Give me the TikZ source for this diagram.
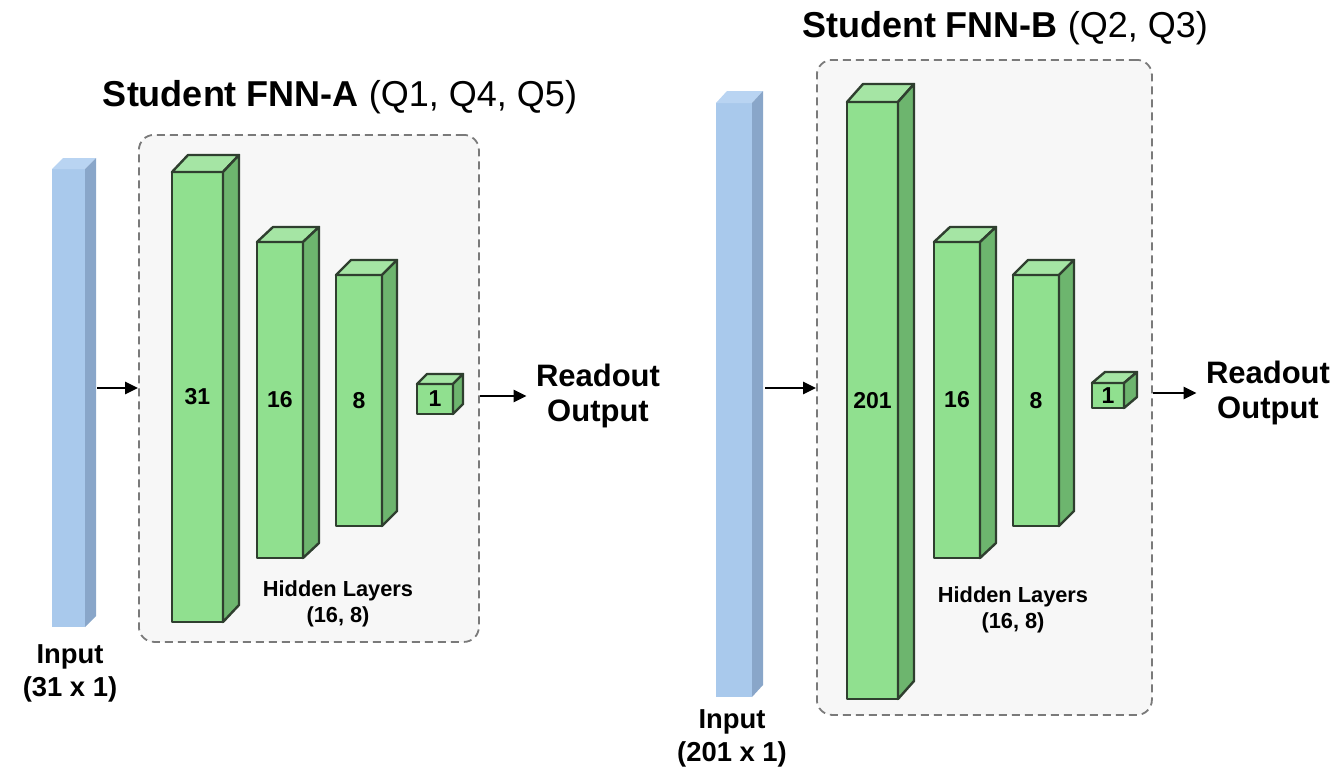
\documentclass[tikz,border=0pt]{standalone}
\usepackage{fontspec}
\setmainfont{Liberation Sans}
\usetikzlibrary{arrows.meta}

\definecolor{inFront}{HTML}{A9C9EC}
\definecolor{inSide}{HTML}{89A6C9}
\definecolor{inTop}{HTML}{B9D4F2}
\definecolor{hidFront}{HTML}{90E08F}
\definecolor{hidSide}{HTML}{6DB56E}
\definecolor{hidTop}{HTML}{A5E5A4}
\definecolor{hidLine}{HTML}{2F3F2F}
\definecolor{panelFill}{HTML}{F7F7F7}
\definecolor{panelLine}{HTML}{7A7A7A}

\tikzset{
  face/.style={inner sep=0pt, outer sep=0pt, anchor=north west, line join=round},
  inputface/.style={face, fill=inFront, draw=none},
  hiddenface/.style={face, fill=hidFront, draw=hidLine, line width=1.2pt,
    font=\fontsize{11.5}{13}\selectfont\bfseries},
  panel/.style={draw=panelLine, fill=panelFill, line width=0.9pt,
    dash pattern=on 4pt off 2.5pt, rounded corners=7.5pt,
    inner sep=0pt, anchor=north west},
  arrow/.style={-{Triangle[length=6.5pt,width=6pt]}, line width=1.4pt, black},
  title/.style={font=\fontsize{18}{21}\selectfont},
  readout/.style={align=center, font=\fontsize{15.5}{17.5}\selectfont\bfseries, inner sep=4.5pt},
  inlabel/.style={align=center, font=\fontsize{13.7}{16.5}\selectfont\bfseries},
  hidlabel/.style={align=center, font=\fontsize{10.9}{13}\selectfont\bfseries},
}

% #1 name, #2 kind (input/hidden), #3 x, #4 y, #5 width, #6 height, #7 dx, #8 dy, #9 text
\newcommand\cuboid[9]{%
  \node[#2face, minimum width=#5*0.5pt, minimum height=#6*0.5pt] (#1) at (#3,#4) {#9};
  \csname cuboidfaces@#2\endcsname{#1}{#5}{#6}{#7}{#8}%
}
\makeatletter
\expandafter\def\csname cuboidfaces@input\endcsname#1#2#3#4#5{%
  \fill[inTop] (#1.north west) -- ++(#4,-#5) -- ++(#2,0) -- (#1.north east) -- cycle;
  \fill[inSide] (#1.north east) -- ++(#4,-#5) -- ++(0,#3) -- (#1.south east) -- cycle;
}
\expandafter\def\csname cuboidfaces@hidden\endcsname#1#2#3#4#5{%
  \filldraw[fill=hidTop, draw=hidLine, line width=1.2pt, line join=round]
    (#1.north west) -- ++(#4,-#5) -- ++(#2,0) -- (#1.north east) -- cycle;
  \filldraw[fill=hidSide, draw=hidLine, line width=1.2pt, line join=round]
    (#1.north east) -- ++(#4,-#5) -- ++(0,#3) -- (#1.south east) -- cycle;
}
\makeatother

\begin{document}
\begin{tikzpicture}[x=0.5pt, y=-0.5pt]
\useasboundingbox (0,0) rectangle (1339,772);

% ---------- Student FNN-A ----------
\node[title] (titleA) at (340,97) {\textbf{Student FNN-A} (Q1, Q4, Q5)};
\node[panel, minimum width=340*0.5pt, minimum height=507*0.5pt] (boxA) at (138,134) {};
\cuboid{inA}{input}{52}{169}{33}{458}{11}{11}{}
\cuboid{hA1}{hidden}{172}{172}{51}{450}{16}{17}{31}
\cuboid{hA2}{hidden}{257}{242}{46}{316}{16}{15}{16}
\cuboid{hA3}{hidden}{336}{275}{46}{251}{15}{15}{8}
\cuboid{oA}{hidden}{417}{384}{36}{30}{10}{10}{1}
\node[inlabel] (inAlabel) at (70,673) {Input\\(31 x 1)};
\node[hidlabel] (hidA) at (338,604) {Hidden Layers\\(16, 8)};
\node[readout] (outA) at (598,396) {Readout\\Output};
\coordinate (srcA) at (97,388);
\draw[arrow] (srcA) -- (srcA -| boxA.west);
\draw[arrow] (boxA.east |- outA.west) -- (outA.west);

% ---------- Student FNN-B ----------
\node[title] (titleB) at (1005,28) {\textbf{Student FNN-B} (Q2, Q3)};
\node[panel, minimum width=335*0.5pt, minimum height=655*0.5pt] (boxB) at (816,59) {};
\cuboid{inB}{input}{716}{103}{36}{594}{11}{12}{}
\cuboid{hB1}{hidden}{847}{102}{51}{597}{16}{18}{201}
\cuboid{hB2}{hidden}{934}{242}{46}{316}{16}{15}{16}
\cuboid{hB3}{hidden}{1013}{275}{46}{251}{15}{15}{8}
\cuboid{oB}{hidden}{1092}{383}{32}{25}{13}{11}{1}
\node[inlabel] (inBlabel) at (732,738) {Input\\(201 x 1)};
\node[hidlabel] (hidB) at (1013,610) {Hidden Layers\\(16, 8)};
\node[readout] (outB) at (1268,393) {Readout\\Output};
\coordinate (srcB) at (765,388);
\draw[arrow] (srcB) -- (srcB -| boxB.west);
\draw[arrow] (boxB.east |- outB.west) -- (outB.west);
\end{tikzpicture}
\end{document}
